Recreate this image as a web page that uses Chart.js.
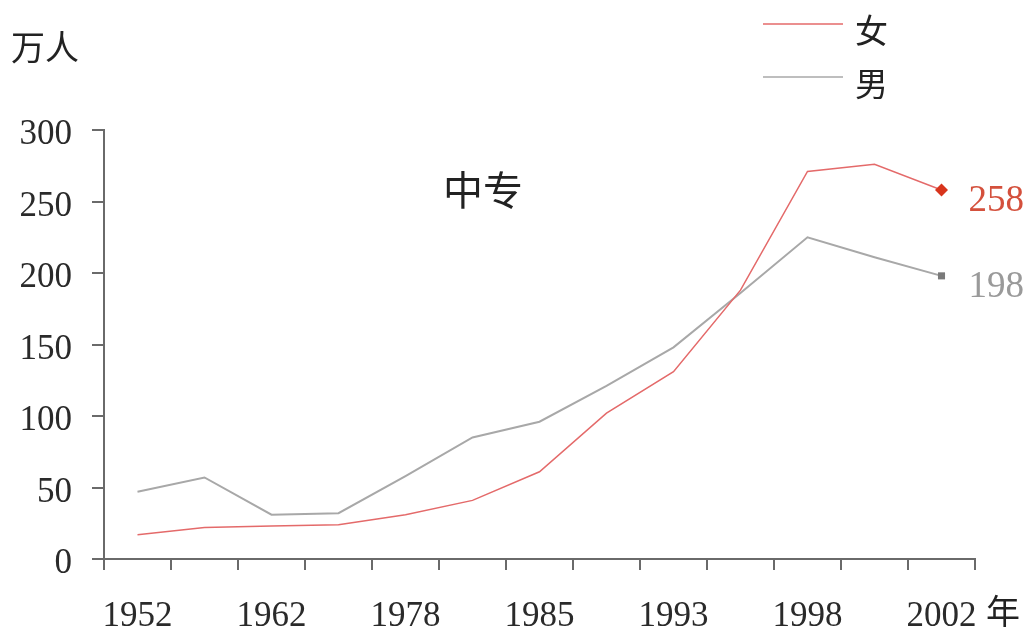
<!DOCTYPE html>
<html>
<head>
<meta charset="utf-8">
<script src="https://cdn.jsdelivr.net/npm/chart.js@4/dist/chart.umd.min.js"></script>
<style>
  html, body { margin: 0; padding: 0; background: #fff; }
  #wrap { width: 1035px; height: 639px; position: relative; }
</style>
</head>
<body>
<div id="wrap"><canvas id="c" width="1035" height="639"></canvas></div>
<script>
// Data
const categories = ['1952', '', '1962', '', '1978', '', '1985', '', '1993', '', '1998', '', '2002'];
const female = [17, 22, 23, 24, 31, 41, 61, 102, 131, 188, 271, 276, 258];
const male   = [47, 57, 31, 32, 58, 85, 96, 121, 148, 186, 225, 211, 198];
const yTicks = [0, 50, 100, 150, 200, 250, 300];
const seriesNames = ['女', '男'];
const yUnit = '万人';
const xUnit = '年';
const panelTitle = '中专';

const NUM_FONT = '"Liberation Serif", "DejaVu Serif", serif';
const CJK_FONT = '"Noto Sans CJK SC", sans-serif';
const RED = '#e46a6a';
const RED_MARK = '#d8341c';
const GRAY = '#a8a8a8';
const GRAY_MARK = '#7a7a7a';
const AXIS = '#6a6a6a';

const last = female.length - 1;

const annotations = {
  id: 'annotations',
  afterDatasetsDraw(chart) {
    const ctx = chart.ctx;
    ctx.save();
    // end value labels
    const colors = ['#d4503c', '#9a9a9a'];
    chart.data.datasets.forEach((ds, i) => {
      const pt = chart.getDatasetMeta(i).data[last];
      ctx.font = '37px ' + NUM_FONT;
      ctx.fillStyle = colors[i];
      ctx.textAlign = 'left';
      ctx.textBaseline = 'middle';
      ctx.fillText(String(ds.data[last]), pt.x + 27, pt.y + 11);
    });
    // panel title
    ctx.font = '40px ' + CJK_FONT;
    ctx.fillStyle = '#222';
    ctx.textAlign = 'center';
    ctx.textBaseline = 'middle';
    ctx.fillText(panelTitle, 483, 190);
    // y unit
    ctx.font = '34px ' + CJK_FONT;
    ctx.textAlign = 'left';
    ctx.fillText(yUnit, 11, 47);
    // x unit
    ctx.fillText(xUnit, 986, 611);
    // legend
    const legendY = [24, 77];
    const legendCol = [RED, GRAY];
    seriesNames.forEach((n, i) => {
      ctx.strokeStyle = legendCol[i];
      ctx.lineWidth = 1.5;
      ctx.beginPath();
      ctx.moveTo(763, legendY[i]);
      ctx.lineTo(843, legendY[i]);
      ctx.stroke();
      ctx.fillStyle = '#222';
      ctx.font = '33px ' + CJK_FONT;
      ctx.textAlign = 'left';
      ctx.textBaseline = 'middle';
      ctx.fillText(n, 855, legendY[i] + 6);
    });
    ctx.restore();
  }
};

new Chart(document.getElementById('c'), {
  type: 'line',
  data: {
    labels: categories,
    datasets: [
      {
        label: seriesNames[0],
        data: female,
        borderColor: RED,
        borderWidth: 1.5,
        tension: 0,
        pointStyle: 'rectRot',
        pointRadius: female.map((v, i) => i === last ? 6.5 : 0),
        pointBackgroundColor: RED_MARK,
        pointBorderColor: RED_MARK,
        pointBorderWidth: 0
      },
      {
        label: seriesNames[1],
        data: male,
        borderColor: GRAY,
        borderWidth: 2,
        tension: 0,
        pointStyle: 'rect',
        pointRadius: male.map((v, i) => i === last ? 5 : 0),
        pointBackgroundColor: GRAY_MARK,
        pointBorderColor: GRAY_MARK,
        pointBorderWidth: 0
      }
    ]
  },
  options: {
    responsive: false,
    animation: false,
    layout: { padding: { top: 130, right: 60, left: 0, bottom: 0 } },
    plugins: { legend: { display: false }, tooltip: { enabled: false } },
    scales: {
      x: {
        type: 'category',
        offset: true,
        grid: {
          offset: true,
          drawOnChartArea: false,
          drawTicks: true,
          tickLength: 11,
          color: AXIS,
          lineWidth: 2
        },
        border: { display: true, color: AXIS, width: 2 },
        ticks: {
          autoSkip: false,
          maxRotation: 0,
          padding: 26,
          color: '#2a2a2a',
          font: { family: NUM_FONT, size: 35 }
        },
        afterFit(scale) { scale.height = 80; }
      },
      y: {
        min: 0,
        max: 300,
        afterBuildTicks(scale) { scale.ticks = yTicks.map(v => ({ value: v })); },
        grid: {
          drawOnChartArea: false,
          drawTicks: true,
          tickLength: 12,
          color: AXIS,
          lineWidth: 2
        },
        border: { display: true, color: AXIS, width: 2 },
        ticks: {
          padding: 20,
          labelOffset: 5,
          color: '#2a2a2a',
          font: { family: NUM_FONT, size: 35 }
        },
        afterFit(scale) { scale.width = 104; }
      }
    }
  },
  plugins: [annotations]
});
</script>
</body>
</html>
